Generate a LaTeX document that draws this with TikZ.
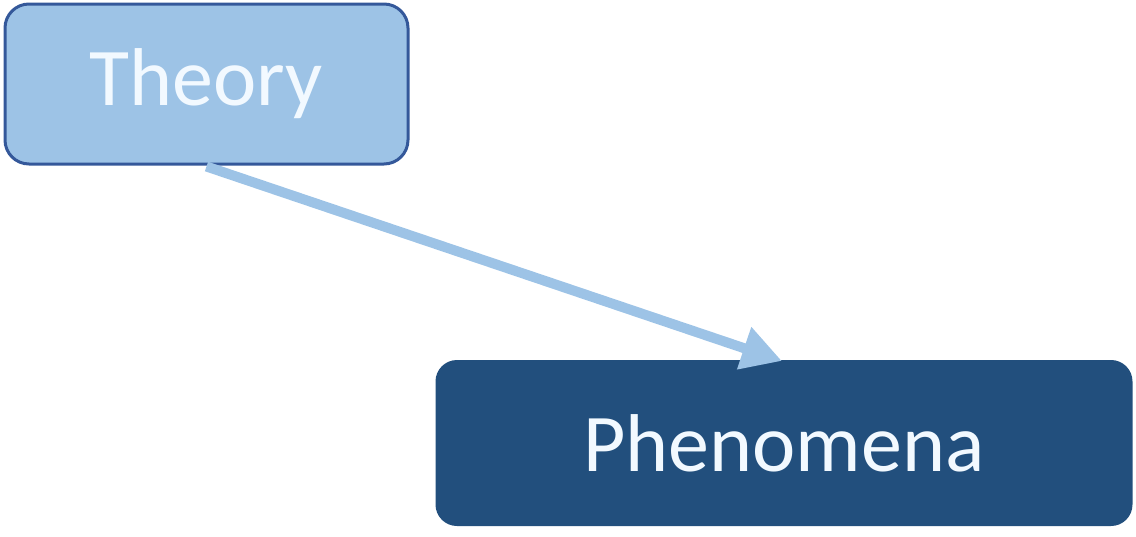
\documentclass[tikz,border=0pt]{standalone}
\usepackage{fontspec}
\setmainfont{Carlito}
\usetikzlibrary{arrows.meta}
\definecolor{lightfill}{HTML}{9DC3E6}
\definecolor{lightborder}{HTML}{34589A}
\definecolor{darkfill}{HTML}{224F7D}
\definecolor{txt}{HTML}{F2F9FF}
\tikzset{
  box/.style={rounded corners=24pt, line width=3pt, inner sep=0pt, text=txt, font=\fontsize{82}{90}\selectfont},
  theorybox/.style={box, fill=lightfill, draw=lightborder, minimum width=403pt, minimum height=160pt},
  phenbox/.style={box, fill=darkfill, draw=darkfill, rounded corners=20pt, minimum width=694pt, minimum height=163pt},
  flow/.style={draw=lightfill, line width=10pt, -{Triangle[length=40pt,width=42pt]}}
}
\begin{document}
\begin{tikzpicture}[x=1pt,y=-1pt]
\useasboundingbox (0,0) rectangle (1136,536);
\node[theorybox] (theory) at (206.5,84) {Theory};
\node[phenbox] (phen) at (784,443) {Phenomena};
\coordinate (tip) at (782,361);
\draw[flow] ([yshift=-1pt]theory.south) -- (tip);
\end{tikzpicture}
\end{document}
